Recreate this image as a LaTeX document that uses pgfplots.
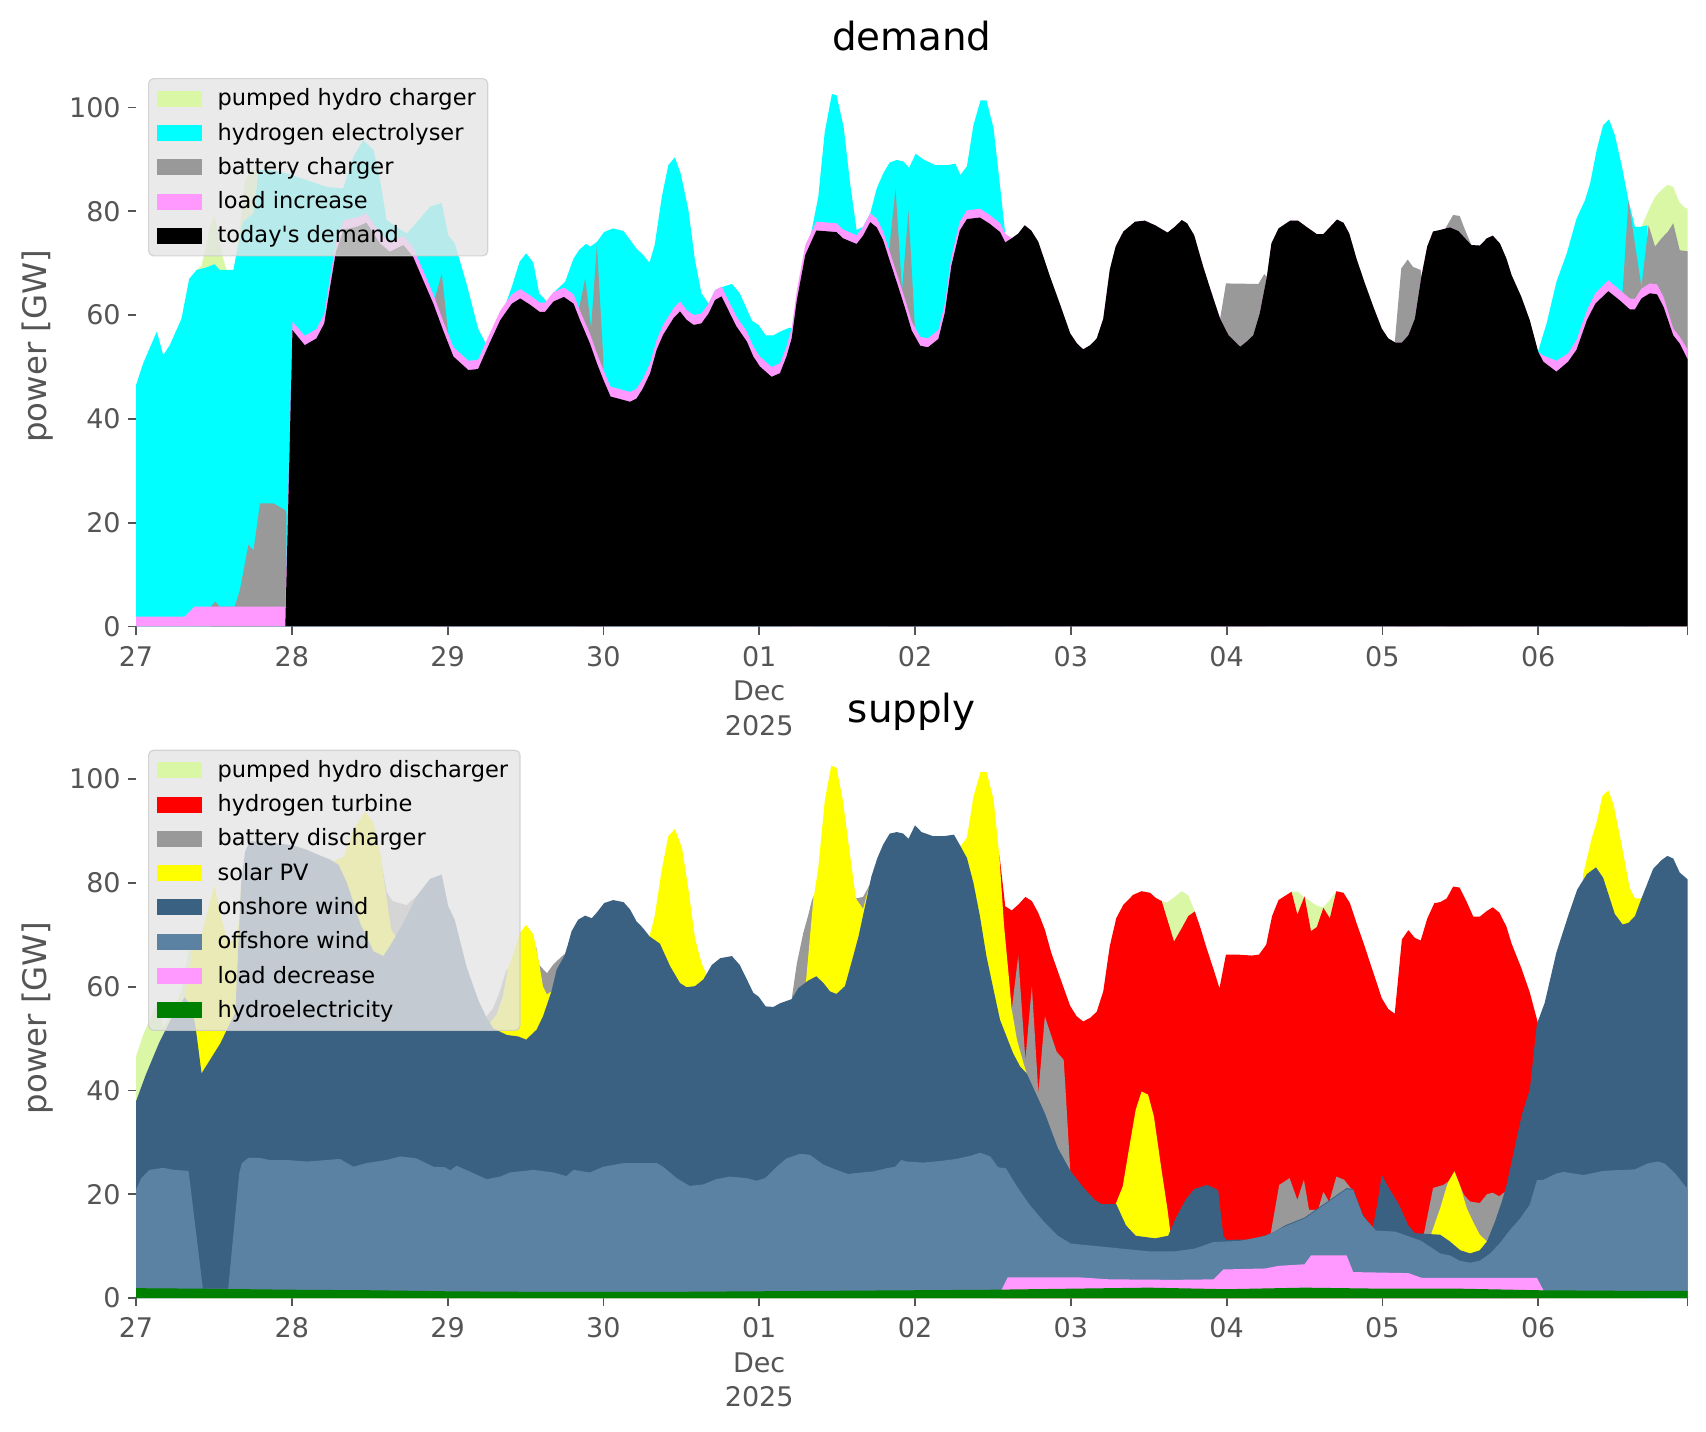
\documentclass[border=0pt]{standalone}
\usepackage{fontspec}
\setmainfont{DejaVu Sans}
\usepackage{pgfplots}
\pgfplotsset{compat=1.18}
\usepackage{pgfplotstable}
\definecolor{phc}{HTML}{DAF7A6}
\definecolor{hyd}{HTML}{00FFFF}
\definecolor{bat}{HTML}{999999}
\definecolor{lpk}{HTML}{FF99FF}
\definecolor{onw}{HTML}{3B6182}
\definecolor{ofw}{HTML}{5C82A3}
\definecolor{hye}{HTML}{008000}
\definecolor{htr}{HTML}{FF0000}
\definecolor{spv}{HTML}{FFFF00}
\definecolor{tg}{HTML}{555555}
\definecolor{legbg}{HTML}{E5E5E5}
\definecolor{legedge}{HTML}{CCCCCC}

% today's demand (b) and load increase (p), GW
\pgfplotstableread{
h b p
0 0 1.9
7.5 0 1.9
9.0 0 3.8
23.0 0 3.8
24.1 57.1 1.6
26.0 54.2 1.8
27.8 55.5 1.8
29.0 58.4 1.8
29.9 65.4 1.8
30.8 72.2 1.8
32.0 76.5 1.8
34.0 77.0 1.8
35.5 77.8 1.8
37.6 73.8 1.8
39.1 72.2 1.8
41.2 73.5 1.8
42.7 71.2 1.8
44.0 67.4 1.8
45.8 62.2 1.8
47.3 57.1 1.8
48.9 52.0 1.8
51.2 49.4 1.8
52.7 49.6 1.8
54.0 53.3 1.8
56.1 59.0 1.8
57.9 62.2 1.8
59.2 63.2 1.8
60.7 62.0 1.8
62.2 60.6 1.8
63.0 60.6 1.8
64.3 62.6 1.8
65.9 63.5 1.8
67.4 62.2 1.8
68.4 59.0 1.8
69.9 54.6 1.9
71.0 50.7 1.9
72.0 47.5 1.9
73.1 44.3 1.9
76.1 43.3 1.9
77.1 43.9 1.9
78.1 45.9 1.9
79.2 48.8 1.9
80.2 53.3 1.9
81.2 56.2 1.9
82.8 59.4 1.9
83.8 60.7 1.9
84.8 59.1 1.9
85.9 58.1 1.9
87.1 58.4 1.9
88.2 60.3 1.9
89.2 62.9 1.9
90.2 63.6 1.9
91.5 60.3 1.9
92.5 57.8 1.9
94.1 54.9 1.9
95.1 52.0 1.9
96.1 50.1 1.9
97.9 48.1 1.9
99.2 48.8 1.9
100.2 52.0 1.9
101.0 55.5 1.9
101.8 62.9 1.9
103.1 71.6 1.9
104.8 76.3 1.7
107.9 76.0 1.7
108.9 74.8 1.7
111.0 73.7 1.7
112.0 75.3 1.7
113.1 77.9 1.7
114.1 76.9 1.7
115.1 74.4 1.7
116.1 70.5 1.7
117.2 66.3 1.7
118.5 61.2 1.7
119.5 57.0 1.7
120.8 54.1 1.7
122.0 53.8 1.7
123.6 55.4 1.7
124.6 60.5 1.7
125.6 69.5 1.7
126.9 76.3 1.7
128.0 78.5 1.7
130.0 78.8 1.7
131.5 77.6 1.7
133.1 76.0 1.7
133.9 74.0 1.7
134.9 74.8 0
135.9 75.7 0
136.9 77.3 0
137.9 76.3 0
139.0 74.1 0
140.8 67.4 0
142.3 62.2 0
143.9 56.5 0
144.9 54.6 0
145.9 53.4 0
147.0 54.2 0
148.0 55.5 0
149.0 59.3 0
150.0 68.7 0
150.9 73.2 0
152.1 76.1 0
153.9 78.0 0
155.4 78.2 0
157.0 77.3 0
158.9 75.9 0
160.0 77.0 0
161.1 78.3 0
161.9 77.7 0
163.0 75.4 0
164.4 69.3 0
165.7 64.2 0
167.0 59.3 0
168.3 56.1 0
170.1 53.9 0
171.1 54.9 0
172.1 56.1 0
173.1 60.3 0
174.2 67.4 0
174.9 73.8 0
176.0 76.7 0
177.8 78.2 0
179.0 78.2 0
180.3 77.0 0
181.9 75.6 0
182.9 75.6 0
185.0 78.4 0
186.0 77.8 0
186.9 75.7 0
188.0 70.9 0
189.3 66.1 0
190.6 61.6 0
191.9 57.4 0
192.9 55.5 0
194.0 54.7 0
195.0 54.7 0
196.0 56.1 0
197.0 59.3 0
198.0 67.4 0
198.9 73.2 0
199.8 76.1 0
200.9 76.4 0
202.4 76.9 0
203.7 76.2 0
205.7 73.5 0
207.0 73.4 0
208.1 74.8 0
209.0 75.3 0
210.1 73.8 0
211.1 70.9 0
211.9 67.7 0
213.4 63.5 0
214.7 59.0 0
216.0 52.9 0
216.8 51.0 1.2
218.8 49.1 2.1
220.6 51.0 1.6
221.9 53.3 1.9
223.5 59.0 1.9
224.8 62.2 2.0
226.8 64.6 2.1
228.6 62.8 2.0
230.1 61.1 2.1
230.9 61.1 2.0
231.9 63.2 1.9
233.2 64.2 1.9
234.3 64.0 1.9
235.3 61.6 1.9
236.8 56.1 1.3
237.8 54.5 1.3
239.0 51.5 1.9
}\dembase

\pgfplotsset{
  panel/.style={
    anchor=south west,
    width=775.75pt, height=280.2pt, scale only axis,
    xmin=0, xmax=239, ymin=0, ymax=108,
    axis x line*=bottom, axis y line*=left,
    axis line style={draw=none},
    tick align=outside, major tick length=4.15pt,
    tick style={draw=tg, line width=0.9pt},
    xtick={0,24,48,72,96,120,144,168,192,216,239},
    xticklabels={27,28,29,30,{01\\Dec\\2025},02,03,04,05,06,{}},
    ytick={0,20,40,60,80,100},
    ticklabel style={font=\fontsize{13.5}{16.5}\selectfont, text=tg},
    xticklabel style={align=center, yshift=-2.2pt, font=\fontsize{13.5}{17.2}\selectfont},
    /pgf/number format/assume math mode=true,
    ylabel={power [GW]},
    ylabel style={font=\fontsize{16.2}{19}\selectfont, text=tg,
      at={(axis description cs:-0.0632,0.5)}, anchor=center},
    title style={font=\fontsize{19.4}{23}\selectfont, text=black,
      at={(axis description cs:0.5,1)}, anchor=base, yshift=1.65pt},
    legend cell align=left,
    legend style={at={(axis description cs:0,1)}, anchor=north west,
      xshift=6pt, yshift=-6pt, fill=legbg, fill opacity=0.8,
      draw=legedge, draw opacity=0.8, text opacity=1,
      rounded corners=2.5pt, line width=0.6pt,
      inner xsep=4pt, inner ysep=3pt, row sep=3.1pt,
      /tikz/every odd column/.append style={column sep=6pt},
      font=\fontsize{11.25}{13}\selectfont},
    legend image code/.code={\fill[##1, fill opacity=1, draw=none, sharp corners] (0pt,-4pt) rectangle (22.5pt,4pt);},
  }
}

\begin{document}
\begin{tikzpicture}
\path[use as bounding box] (0pt,0pt) rectangle (853pt,-715.5pt);

% ---------------- demand ----------------
\begin{axis}[panel, at={(68pt,-313.2pt)}, title={demand}]
\addplot[fill=phc, draw=none] coordinates {
(9.35,0) (9.35,68.7) (10.1,69.5) (11.4,77.0) (12.07,79.3) (13.4,71.0) (13.97,68.7) (13.97,0)
(15.25,0) (15.25,68.8) (15.8,75.0) (16.8,86.0) (17.8,88.0) (18.9,88.0) (18.9,0)
(231.9,0) (231.9,77.0) (233.0,80.2) (234.0,82.8) (235.0,84.1) (235.9,85.1) (236.8,84.7) (237.7,81.8) (238.6,80.7) (239.0,80.5)
} \closedcycle;
\addlegendentry{pumped hydro charger}

\addplot[fill=hyd, draw=none] coordinates {
(0,46.5) (1.1,50.7) (3.2,56.8) (4.2,52.3) (5.2,54.2) (7.0,59.3) (8.2,67.0) (9.35,68.7) (10.9,69.2) (12.07,69.8) (12.9,68.7) (15.0,68.7) (15.5,72.0) (16.5,78.0) (18.1,79.6) (18.9,88.0) (21.2,87.9) (23.2,87.3) (26.3,86.0) (29.4,84.7) (31.9,84.4) (33.5,90.5) (35.0,93.7) (36.6,91.8) (37.6,86.0) (38.6,78.3) (41.7,75.7) (43.75,78.6) (45.3,80.9) (47.1,81.6) (48.1,75.4) (49.1,73.8) (50.9,66.1) (52.7,57.4) (54.0,54.2) (55.6,57.4) (57.9,65.5) (59.1,70.3) (60.1,71.9) (61.2,70.1) (62.1,64.2) (63.3,62.6) (64.3,64.3) (66.1,66.4) (67.4,70.9) (68.3,72.6) (69.3,73.7) (70.0,73.2) (71.0,74.1) (72.1,76.0) (73.5,76.7) (75.1,76.2) (77.1,72.8) (78.1,71.6) (79.1,70.1) (79.9,73.5) (81.0,82.8) (82.0,88.9) (83.0,90.4) (83.9,87.3) (85.1,80.2) (86.1,70.6) (87.1,64.2) (88.2,62.2) (89.2,64.8) (90.5,65.5) (91.8,66.0) (93.0,64.2) (94.9,58.9) (95.9,58.1) (97.0,56.1) (98.2,56.1) (99.2,56.8) (100.7,57.6) (101.25,57.4) (101.25,0)
(104.0,0) (104.0,75.8) (105.1,82.8) (106.1,95.3) (107.2,102.6) (107.9,102.4) (109.0,96.3) (110.0,85.4) (111.0,76.4) (112.0,77.0) (113.1,79.6) (114.1,84.4) (115.1,87.3) (116.1,89.4) (117.2,89.9) (118.2,89.6) (119.1,88.4) (120.1,91.1) (121.3,90.0) (123.1,88.9) (125.1,88.9) (126.2,89.2) (127.0,87.0) (128.0,88.7) (129.0,96.6) (130.1,101.4) (131.0,101.4) (132.1,96.0) (133.0,86.0) (133.9,75.7) (133.9,0)
(216.0,0) (216.0,53.1) (217.3,58.4) (218.8,66.4) (220.4,71.9) (221.9,78.6) (223.2,82.1) (224.0,85.4) (225.0,91.8) (226.0,96.6) (226.9,97.7) (227.8,94.7) (228.9,88.6) (229.9,82.1) (230.9,77.0) (231.7,77.0) (232.8,77.3) (232.8,0)
} \closedcycle;
\addlegendentry{hydrogen electrolyser}

\addplot[fill=bat, draw=none] coordinates {
(11.5,0) (11.5,3.8) (12.2,4.8) (12.9,3.8) (15.2,3.8) (16.0,7.0) (17.3,15.7) (18.1,14.7) (19.1,23.7) (21.2,23.7) (23.0,22.4) (23.15,22.0) (23.15,0)
(46.1,0) (46.1,63.5) (47.1,68.0) (48.1,56.4) (48.1,0)
(68.2,0) (68.2,61.0) (69.2,67.1) (70.1,57.5) (71.0,73.6) (72.0,51.3) (72.0,0)
(116.0,0) (116.0,72.4) (117.0,84.4) (118.0,64.8) (119.0,80.2) (120.0,57.3) (120.0,0)
(167.0,0) (167.0,59.3) (167.9,66.1) (172.9,66.0) (173.8,67.9) (174.2,67.4) (174.2,0)
(193.9,0) (193.9,54.7) (194.9,69.0) (195.9,70.7) (196.7,69.3) (197.9,68.7) (198.0,67.4) (198.0,0)
(201.7,0) (201.7,76.7) (202.9,79.3) (203.9,79.1) (204.7,76.5) (205.7,73.5) (205.7,0)
(229.0,0) (229.0,64.5) (229.9,82.1) (231.9,65.4) (233.0,77.3) (234.0,73.2) (235.0,74.8) (236.0,76.1) (236.8,77.7) (237.8,72.5) (239.0,72.3)
} \closedcycle;
\addlegendentry{battery charger}

\addplot[fill=lpk, draw=none] table[x=h, y expr=\thisrow{b}+\thisrow{p}] {\dembase} \closedcycle;
\addlegendentry{load increase}

\addplot[fill=black, draw=none] table[x=h, y=b] {\dembase} \closedcycle;
\addlegendentry{today\textquotesingle s demand}
\end{axis}

% ---------------- supply ----------------
\begin{axis}[panel, at={(68pt,-649pt)}, title={supply}]
\addplot[fill=phc, draw=none] coordinates {
(0,46.5) (1.1,50.7) (3.2,56.8) (4.2,52.3) (5.2,54.2) (7.0,59.3) (8.1,67.0) (8.8,67.8) (8.8,0)
(158.0,0) (158.0,76.5) (158.8,76.2) (159.8,77.1) (161.1,78.4) (162.1,77.6) (163.1,74.5) (163.1,0)
(178.0,0) (178.0,78.3) (179.0,78.3) (179.8,77.4) (181.9,75.6) (182.9,75.3) (183.9,76.7) (184.9,78.4) (184.9,0)
} \closedcycle;
\addlegendentry{pumped hydro discharger}

\addplot[fill=htr, draw=none] coordinates {
(133.0,0) (133.0,85.5) (133.9,75.5) (134.9,74.7) (135.9,75.8) (137.0,77.3) (138.0,76.5) (139.0,74.2) (140.0,71.0) (141.0,66.5) (142.1,62.6) (143.1,59.1) (143.9,56.3) (144.9,54.3) (145.9,53.3) (147.0,54.0) (148.0,55.2) (149.0,59.1) (150.0,67.8) (151.0,73.2) (152.1,75.8) (153.6,77.7) (154.9,78.4) (156.2,78.1) (157.1,77.1) (158.0,76.5) (159.9,68.7) (161.1,71.3) (162.1,73.6) (163.1,74.5) (163.9,71.6) (164.9,67.5) (166.0,63.3) (166.9,59.7) (167.9,66.2) (169.5,66.2) (171.9,66.0) (173.0,66.2) (174.1,68.1) (175.0,73.6) (176.0,76.7) (178.0,78.3) (178.9,73.9) (180.0,77.4) (181.0,70.7) (181.9,71.5) (182.9,75.2) (183.9,73.2) (184.9,78.4) (186.0,78.1) (187.0,76.1) (188.0,72.3) (189.1,68.4) (190.1,64.6) (191.9,57.8) (192.9,55.7) (193.9,54.8) (195.0,69.1) (196.0,70.9) (197.0,69.4) (197.9,68.9) (198.9,73.1) (200.0,76.1) (200.9,76.3) (201.9,77.0) (202.9,79.3) (203.9,79.1) (205.0,76.3) (206.0,73.5) (207.0,73.5) (208.1,74.6) (209.0,75.3) (210.0,74.3) (211.1,71.6) (211.9,68.3) (213.4,63.6) (214.7,58.9) (216.0,52.8) (216.0,0)
} \closedcycle;
\addlegendentry{hydrogen turbine}

\addplot[fill=bat, draw=none] coordinates {
(37.8,0) (37.8,84.0) (38.6,78.3) (39.5,76.5) (41.7,75.7) (42.8,77.0) (43.4,77.6) (43.4,0)
(53.8,0) (53.8,54.0) (55.0,55.8) (56.0,59.0) (57.0,63.0) (57.3,63.5) (57.3,0)
(61.6,0) (61.6,68.0) (62.1,64.2) (63.3,62.6) (64.3,64.3) (65.3,65.5) (66.1,66.4) (66.4,67.6) (66.4,0)
(101.0,0) (101.0,57.6) (101.8,64.5) (102.8,70.4) (103.6,74.0) (104.1,76.6) (104.4,77.5) (104.4,0)
(110.9,0) (110.9,77.0) (112.0,77.3) (113.0,79.6) (113.4,81.5) (113.4,0)
(134.9,0) (134.9,55.6) (135.9,65.9) (137.0,45.9) (138.0,60.1) (139.0,39.5) (140.0,54.3) (141.8,47.5) (142.9,45.9) (143.2,40.0) (143.9,24.7) (143.9,0)
(174.8,0) (174.8,12.5) (176.1,21.8) (177.7,23.1) (178.9,18.9) (179.9,22.8) (180.7,17.0) (182.1,17.0) (182.9,20.5) (183.8,18.5) (184.9,23.4) (186.1,22.8) (187.1,21.2) (187.6,20.8) (187.6,0)
(198.3,0) (198.3,11.8) (199.8,21.2) (201.4,21.8) (202.2,22.5) (203.1,24.4) (204.0,21.5) (204.6,19.8) (205.5,18.6) (207.0,18.3) (208.1,20.0) (209.0,20.3) (210.0,19.6) (210.9,20.5) (211.2,21.8) (211.2,0)
} \closedcycle;
\addlegendentry{battery discharger}

\addplot[fill=spv, draw=none] coordinates {
(7.5,0) (7.5,58.0) (8.1,62.0) (8.8,67.8) (9.35,68.7) (10.1,70.0) (11.4,76.5) (12.1,79.4) (13.4,72.0) (14.0,69.0) (15.25,68.8) (15.8,72.0) (16.2,80.0) (16.2,0)
(30.5,0) (30.5,84.2) (32.0,85.0) (33.5,90.3) (35.3,93.8) (36.6,91.5) (37.6,86.0) (38.6,77.0) (39.3,71.0) (40.1,69.5) (40.1,0)
(54.5,0) (54.5,53.0) (55.5,54.5) (56.5,58.0) (57.3,63.5) (57.9,65.5) (59.1,70.3) (60.1,71.9) (61.2,70.1) (62.0,65.2) (62.7,60.0) (63.3,58.5) (64.0,59.1) (64.0,0)
(79.1,0) (79.1,69.7) (79.9,73.6) (81.0,82.6) (82.0,89.0) (83.0,90.4) (84.1,86.8) (85.1,78.7) (86.1,69.4) (87.1,64.6) (87.8,62.6) (87.8,0)
(103.2,0) (103.2,60.9) (104.3,76.3) (105.1,82.9) (106.1,95.8) (107.1,102.6) (107.9,102.2) (108.9,95.8) (109.9,86.2) (110.9,77.0) (112.0,75.0) (112.8,78.8) (112.8,0)
(127.0,0) (127.0,87.1) (128.0,88.7) (129.0,96.6) (130.1,101.4) (131.0,101.4) (132.1,96.1) (133.0,85.0) (133.7,72.0) (134.4,62.6) (134.9,55.6) (135.7,49.8) (136.7,45.3) (137.2,43.3) (137.2,0)
(150.9,0) (150.9,18.1) (152.0,21.5) (153.0,29.0) (154.0,36.3) (154.9,39.8) (155.9,39.2) (156.8,35.0) (157.9,25.3) (158.9,17.0) (159.3,13.0) (159.3,0)
(199.5,0) (199.5,12.3) (200.9,17.3) (201.9,21.5) (202.2,22.5) (203.1,24.4) (204.0,21.5) (205.0,17.3) (206.0,14.6) (207.0,12.2) (208.1,10.9) (208.1,0)
(222.9,0) (222.9,81.5) (224.2,88.4) (225.0,91.7) (225.9,96.8) (226.8,97.8) (227.6,95.1) (228.9,87.0) (230.1,79.0) (230.9,77.0) (231.7,77.0) (231.9,77.0) (231.9,0)
} \closedcycle;
\addlegendentry{solar PV}

\addplot[fill=onw, draw=none] coordinates {
(0,37.9) (1.5,43.0) (3.5,49.0) (5.5,54.0) (7.5,58.0) (8.6,56.0) (9.2,52.0) (10.1,43.3) (11.4,45.9) (13.0,49.1) (14.0,51.7) (15.3,55.0) (16.2,80.0) (16.8,86.0) (17.5,88.0) (19.1,88.0) (21.2,87.7) (23.2,87.4) (24.2,87.2) (26.3,86.4) (28.3,85.3) (29.9,84.5) (31.2,83.5) (32.5,80.0) (34.5,72.3) (36.6,66.8) (38.1,65.9) (39.1,67.8) (41.2,72.3) (43.2,77.4) (45.3,80.8) (47.1,81.6) (48.1,75.5) (49.1,72.9) (50.9,63.9) (52.7,57.5) (54.0,54.0) (55.0,52.0) (57.1,50.7) (58.9,50.4) (60.1,49.8) (61.7,51.7) (62.7,54.3) (64.0,59.1) (64.8,63.3) (66.1,66.2) (67.1,70.7) (68.1,72.9) (69.2,73.7) (70.2,73.2) (71.0,74.3) (72.1,76.1) (73.5,76.7) (75.1,76.3) (76.1,74.9) (77.1,72.6) (78.1,71.3) (79.1,69.7) (80.7,68.3) (82.3,63.9) (83.8,60.7) (84.8,59.9) (86.1,60.1) (87.4,61.4) (88.7,64.2) (90.0,65.5) (91.8,65.9) (93.0,64.2) (94.1,61.4) (95.1,58.8) (95.9,58.1) (97.0,56.2) (98.2,56.1) (99.2,56.8) (101.0,57.6) (102.0,59.7) (103.6,61.2) (104.8,62.0) (105.9,60.7) (106.9,59.1) (107.9,58.6) (109.2,60.1) (110.2,64.6) (111.3,69.7) (112.3,75.5) (113.3,81.3) (114.2,84.8) (115.1,87.4) (116.1,89.5) (117.2,89.8) (118.2,89.5) (119.0,88.5) (120.0,91.1) (121.0,89.8) (122.8,89.0) (124.4,89.0) (126.0,89.3) (127.0,87.1) (128.0,84.8) (129.0,80.0) (130.0,73.6) (131.0,65.9) (132.1,59.4) (133.1,53.6) (134.1,50.4) (135.1,47.2) (136.2,44.6) (137.2,43.3) (138.7,39.2) (140.0,35.6) (142.0,28.9) (144.0,24.4) (146.0,21.2) (147.7,18.9) (148.7,18.1) (151.0,18.1) (152.5,14.0) (154.0,12.0) (157.0,11.5) (159.0,12.0) (160.0,15.0) (161.7,19.0) (163.0,21.0) (165.0,21.8) (166.7,20.8) (167.5,12.0) (168.0,11.2) (172.0,11.3) (175.0,12.5) (177.0,14.0) (180.0,15.5) (184.0,19.0) (186.5,21.2) (187.5,21.0) (189.0,16.0) (190.5,13.5) (191.2,18.0) (191.9,23.7) (193.0,21.2) (194.5,18.1) (196.0,14.0) (197.0,12.5) (200.9,12.2) (202.4,10.9) (204.0,9.2) (205.5,8.6) (207.0,9.2) (208.1,10.9) (209.3,14.6) (210.4,18.6) (211.1,21.6) (212.2,28.0) (213.5,35.4) (214.7,40.1) (215.8,52.8) (217.0,56.9) (218.8,66.6) (220.6,73.6) (222.0,78.7) (223.5,81.7) (224.9,83.0) (226.0,81.0) (227.8,74.0) (229.0,72.0) (229.9,72.3) (230.9,73.6) (231.9,77.0) (233.7,82.7) (235.0,84.4) (235.9,85.2) (236.8,84.7) (237.8,82.0) (239.0,80.7)
} \closedcycle;
\addlegendentry{onshore wind}

\addplot[fill=ofw, draw=none] coordinates {
(0,20.8) (0.8,23.1) (2.1,24.7) (4.2,25.1) (5.8,24.7) (8.1,24.5) (10.3,1.8) (14.2,1.8) (15.9,24.0) (16.3,26.0) (17.3,27.0) (19.1,27.0) (20.6,26.6) (23.2,26.6) (26.3,26.3) (29.4,26.6) (31.4,26.8) (33.5,25.3) (35.5,26.0) (38.6,26.6) (40.7,27.3) (43.2,26.9) (45.8,25.3) (47.6,25.2) (48.4,24.6) (49.4,25.5) (51.9,24.1) (54.0,22.9) (56.1,23.4) (57.6,24.2) (61.2,24.7) (64.3,24.2) (66.3,23.5) (67.4,24.7) (69.9,24.2) (72.0,25.3) (75.1,26.0) (80.2,26.0) (81.2,25.3) (83.3,23.1) (85.3,21.6) (87.4,21.9) (89.4,22.9) (91.5,23.4) (94.1,23.1) (95.6,22.6) (96.9,23.1) (98.7,25.3) (100.2,26.9) (102.3,27.8) (103.8,27.6) (105.9,25.7) (107.9,24.7) (109.7,23.9) (111.0,24.1) (113.6,24.4) (115.6,25.0) (116.9,25.3) (117.9,26.6) (118.7,26.3) (121.3,26.1) (123.8,26.4) (126.4,26.8) (128.5,27.4) (130.0,28.0) (131.6,27.3) (132.8,25.2) (134.0,25.0) (135.7,21.5) (137.7,17.9) (140.0,14.5) (142.0,12.0) (144.0,10.5) (148.0,10.0) (152.0,9.5) (156.0,9.0) (160.0,9.0) (163.0,9.5) (166.0,10.8) (170.0,11.0) (174.0,12.0) (177.0,13.8) (180.0,15.3) (184.0,18.8) (186.5,21.0) (187.5,20.8) (189.0,15.8) (191.0,13.0) (194.0,12.8) (198.0,11.0) (200.9,8.6) (202.4,8.2) (203.9,7.2) (205.5,6.8) (207.0,7.2) (208.6,8.6) (210.1,10.6) (211.7,13.2) (213.2,15.3) (214.7,18.0) (215.8,22.7) (216.8,22.8) (218.8,24.0) (219.9,24.3) (223.0,23.7) (226.0,24.5) (229.1,24.7) (230.9,24.8) (233.0,26.0) (234.5,26.3) (235.5,25.9) (237.1,24.0) (239.0,21.0)
} \closedcycle;
\addlegendentry{offshore wind}

\addplot[fill=lpk, draw=none] coordinates {
(133.3,0) (133.3,1.5) (134.3,4.0) (145.0,4.0) (150.0,3.6) (160.0,3.5) (166.0,3.6) (167.5,5.5) (174.0,5.7) (176.0,6.2) (180.0,6.5) (181.0,8.2) (186.5,8.2) (187.5,5.0) (196.0,4.8) (198.0,3.9) (215.8,3.9) (216.8,1.5) (216.8,0)
} \closedcycle;
\addlegendentry{load decrease}

\addplot[fill=hye, draw=none] coordinates {
(0,1.9) (10,1.8) (24,1.6) (36,1.5) (48,1.3) (60,1.2) (72,1.2) (84,1.2) (96,1.3) (108,1.4) (120,1.5) (132,1.6) (144,1.8) (156,2.0) (168,1.7) (180,2.0) (192,1.8) (204,1.8) (216,1.5) (228,1.4) (239,1.4)
} \closedcycle;
\addlegendentry{hydroelectricity}
\end{axis}
\end{tikzpicture}
\end{document}
